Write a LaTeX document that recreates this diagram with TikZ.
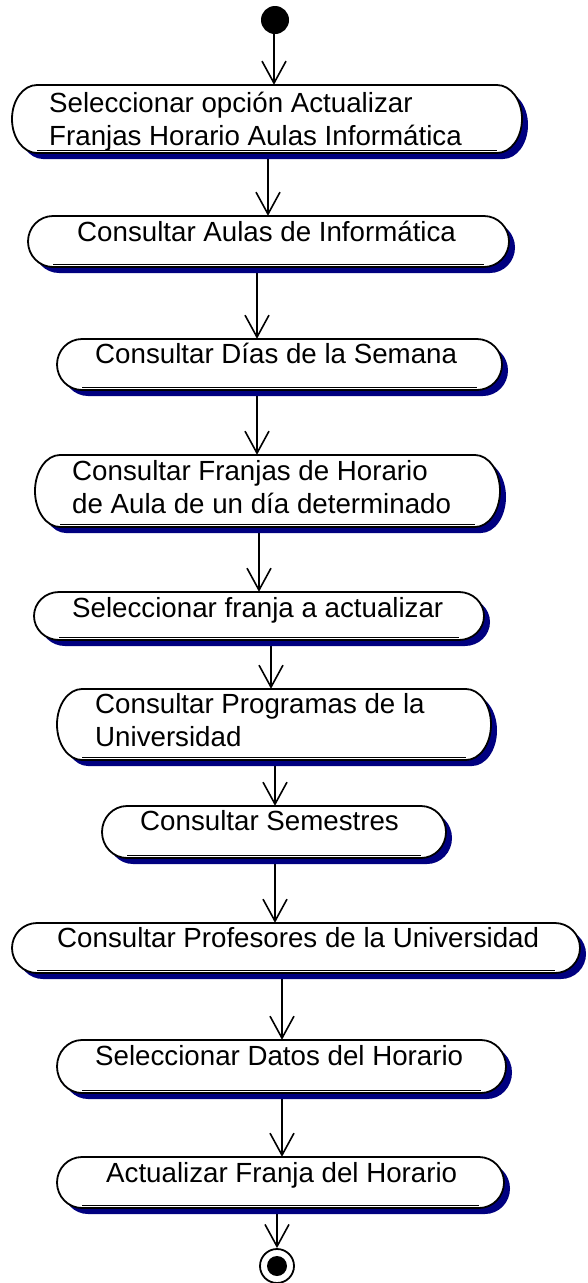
\documentclass[tikz,border=0pt]{standalone}
\usepackage{fontspec}
\setmainfont{Liberation Sans}
\usetikzlibrary{positioning,arrows.meta,backgrounds}

\definecolor{roseshadow}{RGB}{0,0,128}

\begin{document}
\begin{tikzpicture}[
  x=1pt, y=-1pt,
  flow/.style={-{Straight Barb[length=22pt, width=24pt, line width=1.6pt]}, line width=1.6pt},
  pillpath/.style n args={4}{insert path={
      (#1+25,#3) -- (#2-25,#3)
      arc[start angle=90, end angle=-90, x radius=25pt, y radius={(#4-#3)/2*1pt}]
      -- (#1+25,#4)
      arc[start angle=270, end angle=90, x radius=25pt, y radius={(#4-#3)/2*1pt}]
      -- cycle}},
  pillshadow/.style={fill=roseshadow, draw=none},
  pillbody/.style={fill=white, draw=black, line width=1.8pt},
  txt/.style={anchor=north west, inner sep=0pt, align=left,
              font=\fontsize{27.7}{33}\selectfont},
  startdot/.style={circle, fill=black, inner sep=0pt, minimum size=28pt},
  enddot/.style={circle, draw=black, fill=white, line width=1.8pt, inner sep=0pt, minimum size=34pt}
]

\useasboundingbox (0,0) rectangle (587,1283);

%% -- Initial and final states -----------------------------------------
\node[startdot] (start) at (275,20) {};
\node[enddot] (stop) at (277,1266) {};
\fill (stop.center) circle[radius=10pt];

%% -- Activity boxes: name / left / right / top / bottom ---------------
\foreach \n/\l/\r/\t/\b in {
    b1/12/522/85/153,   b2/28/509/216/267,  b3/57/502/339/390,
    b4/35/500/455/527,  b5/34/484/592/640,  b6/57/491/689/760,
    b7/102/446/806/858, b8/12/580/923/973,  b9/57/506/1040/1093,
    b10/57/504/1157/1208}{
  \fill[pillshadow, shift={(6pt,-6pt)}, pillpath={\l}{\r}{\t}{\b}];
  \draw[pillbody, pillpath={\l}{\r}{\t}{\b}];
  \draw[line width=1pt] (\l+25,\b-3) -- (\r-25,\b-3);
  \node[inner sep=0pt, minimum width={\r-\l}, minimum height={\b-\t}]
      (\n) at ({(\l+\r)/2},{(\t+\b)/2}) {};
}

%% -- Labels ------------------------------------------------------------
\node[txt] (t1) at (49,92) {Seleccionar opción Actualizar\\Franjas Horario Aulas Informática};
\node[txt] (t2) at (77,221) {Consultar Aulas de Informática};
\node[txt] (t3) at (95,343) {Consultar Días de la Semana};
\node[txt] (t4) at (72,460) {Consultar Franjas de Horario\\de Aula de un día determinado};
\node[txt] (t5) at (72,597) {Seleccionar franja a actualizar};
\node[txt] (t6) at (95,693) {Consultar Programas de la\\Universidad};
\node[txt] (t7) at (140,810) {Consultar Semestres};
\node[txt] (t8) at (57,927) {Consultar Profesores de la Universidad};
\node[txt] (t9) at (95,1045) {Seleccionar Datos del Horario};
\node[txt] (t10) at (106,1162) {Actualizar Franja del Horario};

%% -- Control flow ------------------------------------------------------
\begin{scope}[on background layer]
\foreach \src/\dst/\x in {
    start/b1/274, b1/b2/268, b2/b3/257, b3/b4/257, b4/b5/259,
    b5/b6/271, b6/b7/275, b7/b8/275, b8/b9/282, b9/b10/282, b10/stop/277}
  \draw[flow] (\src.south -| \x,0) -- (\dst.north -| \x,0);
\end{scope}

\end{tikzpicture}
\end{document}
